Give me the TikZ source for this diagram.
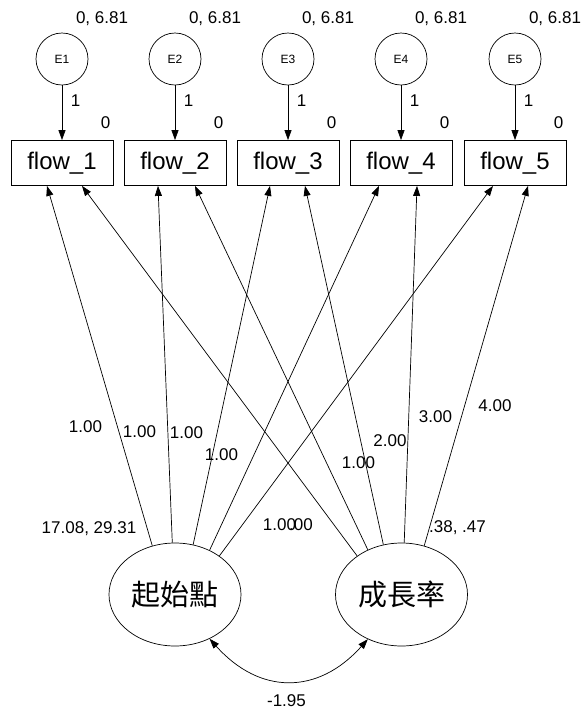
\documentclass[tikz,border=0pt]{standalone}
\usepackage{fontspec}
\setmainfont{Liberation Sans}
\newfontfamily\cjk{Noto Sans CJK TC}
\usetikzlibrary{arrows.meta,shapes.geometric}
\begin{document}
\begin{tikzpicture}[x=1pt,y=-1pt,
  lbl/.style={inner sep=0pt,font=\fontsize{17}{19}\selectfont},
  obs/.style={draw,line width=0.8pt,minimum width=102pt,minimum height=45pt,inner sep=0pt,font=\fontsize{24}{28}\selectfont},
  err/.style={draw,circle,line width=0.7pt,minimum size=52pt,inner sep=0pt,font=\fontsize{12}{14}\selectfont},
  lat/.style={draw,ellipse,line width=0.7pt,minimum width=132pt,minimum height=103pt,inner sep=0pt,font=\cjk\fontsize{29}{32}\selectfont},
  arr/.style={-{Triangle[length=10pt,width=7pt]},line width=0.7pt},
  darr/.style={{Triangle[length=10pt,width=7pt]}-{Triangle[length=10pt,width=7pt]},line width=0.7pt},
]
\useasboundingbox (0,0) rectangle (582,710);
\foreach \i/\x in {1/62,2/175,3/288,4/401,5/515} {
  \node[err] (e\i) at (\x,59) {E\i};
  \node[obs] (f\i) at (\x,163) {flow\_\i};
  \node[lbl] (v\i) at (\x+40,19) {0, 6.81};
  \node[lbl] (w\i) at (\x+13.5,101) {1};
  \node[lbl] (i\i) at (\x+43.5,122.5) {0};
  \draw[arr] (e\i) -- (f\i);
}
\node[lat] (L) at (175,594.5) {起始點};
\node[lat] (S) at (401.5,594.5) {成長率};
\draw[arr] (L.115.4) -- ([xshift=-15pt]f1.south);
\draw[arr] (L.93.3) -- ([xshift=-17pt]f2.south);
\draw[arr] (L.70.4) -- ([xshift=-18pt]f3.south);
\draw[arr] (L.52.4) -- ([xshift=-22pt]f4.south);
\draw[arr] (L.41.3) -- ([xshift=-22pt]f5.south);
\draw[arr] (S.139.8) -- ([xshift=20pt]f1.south);
\draw[arr] (S.127.8) -- ([xshift=20pt]f2.south);
\draw[arr] (S.110.5) -- ([xshift=17pt]f3.south);
\draw[arr] (S.87.2) -- ([xshift=16pt]f4.south);
\draw[arr] (S.65.1) -- ([xshift=13pt]f5.south);
\draw[darr] (L.-52.7) .. controls +(50,56) and +(-50,56) .. (S.-127.5);
\node[lbl] (a1) at (85.5,427) {1.00};
\node[lbl] (a2) at (139.5,432) {1.00};
\node[lbl] (a3) at (186.5,433) {1.00};
\node[lbl] (a4) at (221.5,455) {1.00};
\node[lbl] (a5) at (279.5,525) {1.00};
\node[lbl] (b0) at (301,525) {.00};
\node[lbl] (b1) at (358.5,463) {1.00};
\node[lbl] (b2) at (390,441) {2.00};
\node[lbl] (b3) at (435.5,417) {3.00};
\node[lbl] (b4) at (495,406) {4.00};
\node[lbl] (vL) at (89,529) {17.08, 29.31};
\node[lbl] (vS) at (457.5,528) {.38, .47};
\node[lbl] (cov) at (286.5,701) {-1.95};
\end{tikzpicture}
\end{document}
